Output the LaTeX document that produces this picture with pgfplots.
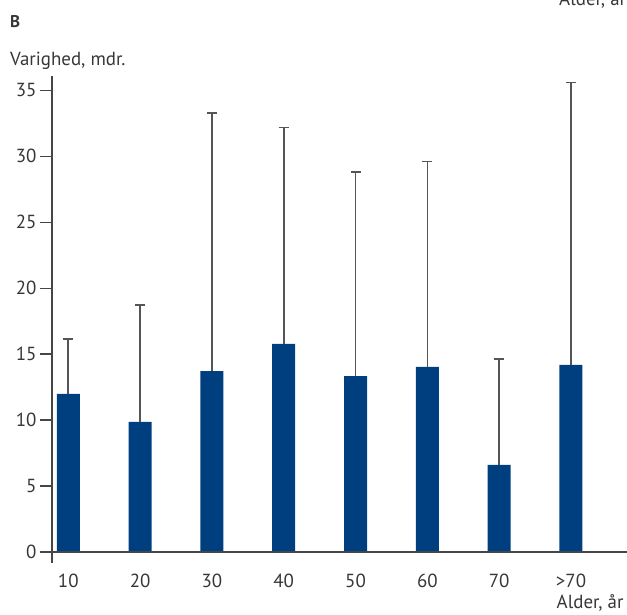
\documentclass[border=0pt]{standalone}
\usepackage{pgfplots}
\usepackage{pgfplotstable}
\usepackage{fontspec}
\setmainfont{PT Sans}
\pgfplotsset{compat=1.18}
\definecolor{barblue}{RGB}{0,63,127}
\definecolor{txt}{RGB}{55,55,55}
\definecolor{axl}{RGB}{70,70,70}
\definecolor{errc}{RGB}{85,85,85}
\pgfplotstableread{
x y err
0 11.98 4.15
1 9.86 8.87
2 13.72 19.54
3 15.77 16.40
4 13.34 15.49
5 14.03 15.56
6 6.60 8.03
7 14.18 21.40
}\data
\begin{document}
\begin{tikzpicture}
\begin{axis}[
  scale only axis,
  width=575bp, height=487bp,
  xmin=-0.227, xmax=7.78,
  ymin=-0.834, ymax=36.09,
  axis lines*=left,
  x axis line style={draw=none},
  y axis line style={draw=axl, line width=1.3bp},
  clip=false,
  xtick={0,...,7},
  xticklabels={10,20,30,40,50,60,70,>70},
  xtick style={draw=none},
  ytick={0,5,...,35},
  ytick style={draw=axl, line width=1.3bp},
  tick align=outside,
  major tick length=12bp,
  /pgf/number format/assume math mode=true,
  tick label style={font=\fontsize{19}{22}\selectfont, text=txt},
  xticklabel style={yshift=4bp},
]
\addplot[ybar, bar width=23bp, fill=barblue, draw=none,
  error bars/.cd, y dir=plus, y explicit,
  error bar style={draw=errc, line width=1.6bp},
  error mark options={rotate=90, mark size=5bp, draw=errc, line width=1.6bp}]
  table[x=x, y=y, y error=err] {\data};
\draw[axl, line width=1.3bp] (axis cs:-0.394,0) -- (axis cs:7.78,0);
\node[anchor=base west, inner sep=0pt, text=txt, font=\fontsize{17}{20}\selectfont\bfseries] at (axis cs:-0.812,39.80) {B};
\node[anchor=base west, inner sep=0pt, text=txt, font=\fontsize{19}{22}\selectfont] at (axis cs:-0.812,36.85) {Varighed, mdr.};
\node[anchor=base east, inner sep=0pt, text=txt, font=\fontsize{19}{22}\selectfont] at (axis cs:7.735,-4.30) {Alder, år};
\node[anchor=base east, inner sep=0pt, text=txt, font=\fontsize{19}{22}\selectfont] at (axis cs:7.77,41.47) {Alder, år};
\coordinate (bl) at (axis cs:-0.951,-4.776);
\coordinate (tr) at (axis cs:7.78,41.85);
\end{axis}
\pgfresetboundingbox
\useasboundingbox (bl) rectangle (tr);
\end{tikzpicture}
\end{document}
